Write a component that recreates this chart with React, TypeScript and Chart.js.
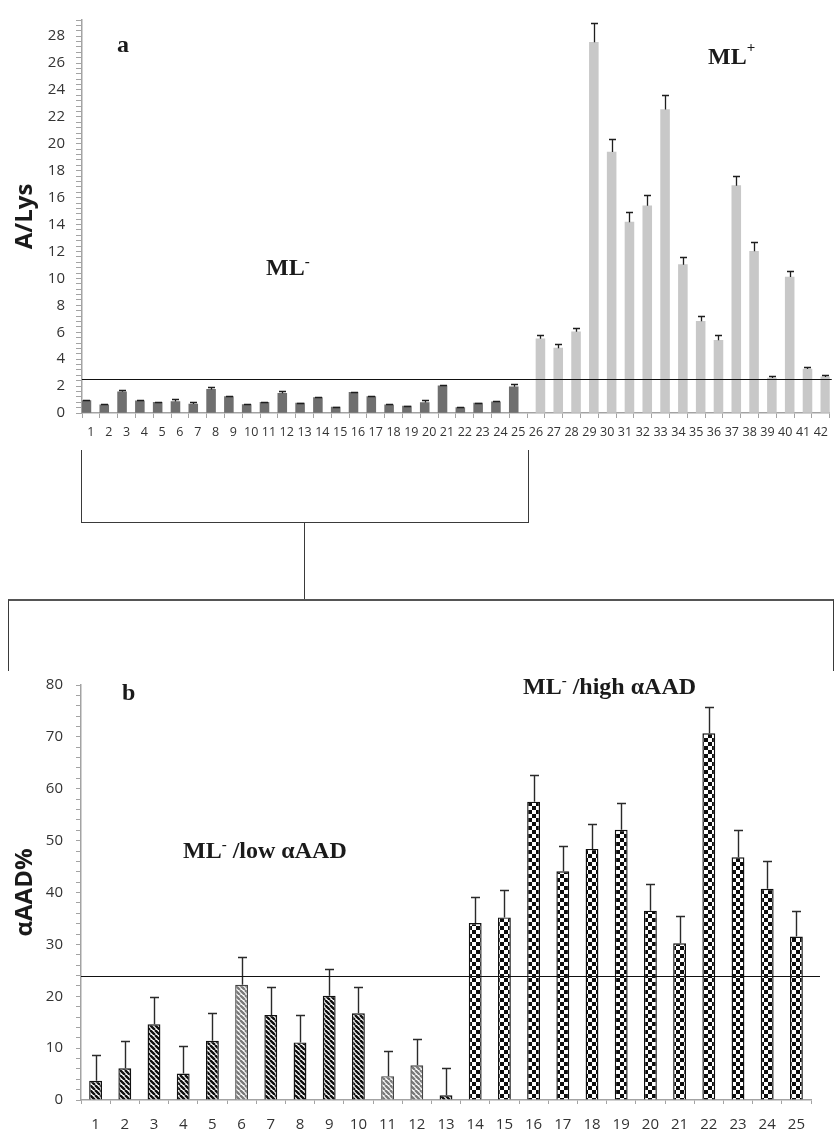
import React, { useEffect, useRef } from 'react';
import { Chart, registerables } from 'chart.js';

Chart.register(...registerables);

// ---------------- data: panel a ----------------
const TOP_CATEGORIES = [
  '1', '2', '3', '4', '5', '6', '7', '8', '9', '10', '11', '12', '13', '14',
  '15', '16', '17', '18', '19', '20', '21', '22', '23', '24', '25', '26', '27', '28',
  '29', '30', '31', '32', '33', '34', '35', '36', '37', '38', '39', '40', '41', '42',
];
// ML- samples (1-25)
const ML_MINUS_VALUES = [
  0.92, 0.61, 1.58, 0.9, 0.8, 0.85, 0.66, 1.75, 1.22, 0.63, 0.8, 1.46, 0.73,
  1.14, 0.44, 1.53, 1.22, 0.61, 0.51, 0.78, 2.02, 0.41, 0.73, 0.83, 1.95,
];
const ML_MINUS_ERRORS = [
  0.06, 0.04, 0.15, 0.05, 0.04, 0.18, 0.17, 0.2, 0.05, 0.03, 0.04, 0.17, 0.04,
  0.05, 0.03, 0.06, 0.06, 0.05, 0.04, 0.17, 0.06, 0.04, 0.05, 0.07, 0.19,
];
// ML+ samples (26-42)
const ML_PLUS_VALUES = [
  5.52, 4.82, 6.03, 27.54, 19.39, 14.18, 15.4, 22.55, 11.02, 6.81, 5.4, 16.89,
  12.02, 2.6, 10.1, 3.26, 2.68,
];
const ML_PLUS_ERRORS = [
  0.3, 0.28, 0.3, 1.41, 0.95, 0.78, 0.78, 1.1, 0.56, 0.39, 0.42, 0.75, 0.66,
  0.12, 0.48, 0.14, 0.12,
];
const TOP_THRESHOLD = 2.55;
const TOP_Y_MAX = 29.2;
const TOP_Y_MINOR = 0.4;
const TOP_Y_MAJOR = 2;

// ---------------- data: panel b ----------------
const BOTTOM_CATEGORIES = [
  '1', '2', '3', '4', '5', '6', '7', '8', '9', '10', '11', '12', '13', '14',
  '15', '16', '17', '18', '19', '20', '21', '22', '23', '24', '25',
];
const AAD_VALUES = [
  3.7, 6.1, 14.6, 5.1, 11.4, 22.2, 16.4, 11.1, 20.1, 16.7, 4.6, 6.7, 0.9,
  34.1, 35.2, 57.5, 44.1, 48.4, 52.1, 36.5, 30.2, 70.7, 46.8, 40.7, 31.5,
];
const AAD_ERRORS = [
  5.0, 5.3, 5.2, 5.3, 5.3, 5.3, 5.3, 5.3, 5.2, 5.0, 4.9, 5.0, 5.2, 5.0, 5.2,
  5.2, 4.9, 4.9, 5.2, 5.2, 5.2, 5.0, 5.2, 5.3, 4.9,
];
// group of each sample: low αAAD (dark hatch), low αAAD (light hatch), high αAAD
const AAD_GROUPS = [
  'low', 'low', 'low', 'low', 'low', 'lowLight', 'low', 'low', 'low', 'low',
  'lowLight', 'lowLight', 'low', 'high', 'high', 'high', 'high', 'high', 'high',
  'high', 'high', 'high', 'high', 'high', 'high',
];
const BOTTOM_THRESHOLD = 24;
const BOTTOM_Y_MAX = 80;
const BOTTOM_Y_MINOR = 2;
const BOTTOM_Y_MAJOR = 10;

// ---------------- plugins ----------------
const errorBarPlugin = {
  id: 'errorBars',
  afterDatasetsDraw(chart: any, _args: any, opts: any) {
    const ctx = chart.ctx;
    const yScale = chart.scales.y;
    chart.data.datasets.forEach((ds: any, di: number) => {
      const errs = ds.errors;
      if (!errs) return;
      const meta = chart.getDatasetMeta(di);
      meta.data.forEach((el: any, i: number) => {
        const v = ds.data[i];
        const e = errs[i];
        if (v == null || e == null) return;
        const x = Math.round(el.x) + 0.5;
        const y0 = yScale.getPixelForValue(v);
        const y1 = Math.round(yScale.getPixelForValue(v + e)) + 0.5;
        ctx.save();
        ctx.strokeStyle = opts.color;
        ctx.lineWidth = opts.width;
        ctx.beginPath();
        ctx.moveTo(x, y0);
        ctx.lineTo(x, y1);
        ctx.moveTo(x - opts.cap / 2, y1);
        ctx.lineTo(x + opts.cap / 2, y1);
        ctx.stroke();
        ctx.restore();
      });
    });
  },
};

const thresholdPlugin = {
  id: 'threshold',
  afterDatasetsDraw(chart: any, _args: any, opts: any) {
    const ctx = chart.ctx;
    const y = Math.round(chart.scales.y.getPixelForValue(opts.value)) + 0.5;
    ctx.save();
    ctx.strokeStyle = opts.color;
    ctx.lineWidth = 1.2;
    ctx.beginPath();
    ctx.moveTo(chart.chartArea.left, y);
    ctx.lineTo(chart.chartArea.right + opts.extend, y);
    ctx.stroke();
    ctx.restore();
  },
};

function makeStripe(color: string) {
  const s = 5;
  const c = document.createElement('canvas');
  c.width = s;
  c.height = s;
  const g = c.getContext('2d')!;
  g.fillStyle = '#ffffff';
  g.fillRect(0, 0, s, s);
  g.strokeStyle = color;
  g.lineWidth = 2.4;
  g.beginPath();
  for (const k of [-s, 0, s]) {
    g.moveTo(k, 0);
    g.lineTo(k + s, s);
  }
  g.stroke();
  return g.createPattern(c, 'repeat');
}

function makeChecker() {
  const q = 4;
  const c = document.createElement('canvas');
  c.width = q * 2;
  c.height = q * 2;
  const g = c.getContext('2d')!;
  g.fillStyle = '#ffffff';
  g.fillRect(0, 0, q * 2, q * 2);
  g.fillStyle = '#0d0d0d';
  g.fillRect(0, 0, q, q);
  g.fillRect(q, q, q, q);
  return g.createPattern(c, 'repeat');
}

const AXIS_GRAY = '#a3a3a3';
const TICK_TEXT = '#333333';
const TICK_FONT = 'Open Sans';

export default function App() {
  const topRef = useRef<HTMLCanvasElement | null>(null);
  const botRef = useRef<HTMLCanvasElement | null>(null);

  useEffect(() => {
    const nMinus = ML_MINUS_VALUES.length;
    const nPlus = ML_PLUS_VALUES.length;
    const padMinus = new Array(nPlus).fill(null);
    const padPlus = new Array(nMinus).fill(null);

    const top = new Chart(topRef.current!, {
      type: 'bar',
      data: {
        labels: TOP_CATEGORIES,
        datasets: [
          {
            label: 'ML-',
            data: [...ML_MINUS_VALUES, ...padMinus],
            errors: [...ML_MINUS_ERRORS, ...padMinus],
            backgroundColor: '#6f6f6f',
            categoryPercentage: 1,
            barPercentage: 1,
          } as any,
          {
            label: 'ML+',
            data: [...padPlus, ...ML_PLUS_VALUES],
            errors: [...padPlus, ...ML_PLUS_ERRORS],
            backgroundColor: '#c8c8c8',
            categoryPercentage: 1,
            barPercentage: 1,
          } as any,
        ],
      },
      options: {
        responsive: false,
        animation: false,
        layout: { padding: { top: 13, right: 1, left: 0, bottom: 0 } },
        plugins: {
          legend: { display: false },
          tooltip: { enabled: false },
          errorBars: { color: '#1e1e1e', width: 1.3, cap: 7 },
          threshold: { value: TOP_THRESHOLD, color: '#111111', extend: 2 },
        } as any,
        scales: {
          x: {
            grid: {
              display: true,
              drawOnChartArea: false,
              drawTicks: true,
              tickLength: 5,
              color: AXIS_GRAY,
              offset: true,
            },
            border: { display: true, color: AXIS_GRAY, width: 1.5 },
            ticks: {
              autoSkip: false,
              maxRotation: 0,
              minRotation: 0,
              padding: 7,
              color: TICK_TEXT,
              font: { family: TICK_FONT, size: 12.5 },
            },
            afterFit: (s: any) => {
              s.height = 32;
            },
          },
          y: {
            min: 0,
            max: TOP_Y_MAX,
            grid: {
              display: true,
              drawOnChartArea: false,
              drawTicks: true,
              tickLength: 6,
              color: AXIS_GRAY,
            },
            border: { display: true, color: AXIS_GRAY, width: 1.5 },
            ticks: {
              stepSize: TOP_Y_MINOR,
              autoSkip: false,
              padding: 11,
              color: TICK_TEXT,
              font: { family: TICK_FONT, size: 15 },
              callback: (v: any) => {
                const r = v / TOP_Y_MAJOR;
                return Math.abs(r - Math.round(r)) < 1e-6 ? String(Math.round(v)) : '';
              },
            },
            title: {
              display: true,
              text: 'A/Lys',
              color: '#1a1a1a',
              font: { family: TICK_FONT, size: 24, weight: 'bold' },
              padding: { top: 11, bottom: 0 },
            },
            afterFit: (s: any) => {
              s.width = 82;
            },
          },
        },
      } as any,
      plugins: [errorBarPlugin, thresholdPlugin],
    });

    const stripeDark = makeStripe('#101010');
    const stripeLight = makeStripe('#7a7a7a');
    const checker = makeChecker();
    const fills = AAD_GROUPS.map((g) =>
      g === 'high' ? checker : g === 'lowLight' ? stripeLight : stripeDark
    );
    const borders = AAD_GROUPS.map((g) => (g === 'lowLight' ? '#444444' : '#111111'));

    const bot = new Chart(botRef.current!, {
      type: 'bar',
      data: {
        labels: BOTTOM_CATEGORIES,
        datasets: [
          {
            label: 'αAAD%',
            data: AAD_VALUES,
            errors: AAD_ERRORS,
            backgroundColor: fills as any,
            borderColor: borders,
            borderWidth: 1.4,
            categoryPercentage: 1,
            barPercentage: 0.44,
          } as any,
        ],
      },
      options: {
        responsive: false,
        animation: false,
        layout: { padding: { top: 35, right: 24, left: 0, bottom: 0 } },
        plugins: {
          legend: { display: false },
          tooltip: { enabled: false },
          errorBars: { color: '#2a2a2a', width: 1.4, cap: 9 },
          threshold: { value: BOTTOM_THRESHOLD, color: '#111111', extend: 9 },
        } as any,
        scales: {
          x: {
            grid: {
              display: true,
              drawOnChartArea: false,
              drawTicks: true,
              tickLength: 4,
              color: AXIS_GRAY,
              offset: true,
            },
            border: { display: true, color: AXIS_GRAY, width: 1.5 },
            ticks: {
              autoSkip: false,
              maxRotation: 0,
              minRotation: 0,
              padding: 12,
              color: TICK_TEXT,
              font: { family: TICK_FONT, size: 15 },
            },
            afterFit: (s: any) => {
              s.height = 40;
            },
          },
          y: {
            min: 0,
            max: BOTTOM_Y_MAX,
            grid: {
              display: true,
              drawOnChartArea: false,
              drawTicks: true,
              tickLength: 5,
              color: AXIS_GRAY,
            },
            border: { display: true, color: AXIS_GRAY, width: 1.5 },
            ticks: {
              stepSize: BOTTOM_Y_MINOR,
              autoSkip: false,
              padding: 13,
              color: TICK_TEXT,
              font: { family: TICK_FONT, size: 15 },
              callback: (v: any) => {
                const r = v / BOTTOM_Y_MAJOR;
                return Math.abs(r - Math.round(r)) < 1e-6 ? String(Math.round(v)) : '';
              },
            },
            title: {
              display: true,
              text: 'αAAD%',
              color: '#1a1a1a',
              font: { family: TICK_FONT, size: 24, weight: 'bold' },
              padding: { top: 11, bottom: 0 },
            },
            afterFit: (s: any) => {
              s.width = 81;
            },
          },
        },
      } as any,
      plugins: [errorBarPlugin, thresholdPlugin],
    });

    return () => {
      top.destroy();
      bot.destroy();
    };
  }, []);

  const serif: React.CSSProperties = {
    position: 'absolute',
    fontFamily: '"Liberation Serif", "Times New Roman", serif',
    fontWeight: 'bold',
    fontSize: 24,
    lineHeight: '24px',
    color: '#1a1a1a',
    whiteSpace: 'nowrap',
  };
  const sup = (shift: number): React.CSSProperties => ({
    fontSize: 15,
    position: 'relative',
    top: shift,
  });
  const line = '1.5px solid #3a3a3a';

  return (
    <div
      style={{
        position: 'absolute',
        left: 0,
        top: 0,
        width: 835,
        height: 1132,
        overflow: 'hidden',
        background: '#ffffff',
      }}
    >
      <canvas ref={topRef} width={835} height={445} style={{ position: 'absolute', left: 0, top: 0 }} />
      <canvas ref={botRef} width={835} height={490} style={{ position: 'absolute', left: 0, top: 650 }} />

      {/* connectors */}
      <div
        style={{
          position: 'absolute',
          left: 81,
          top: 450,
          width: 446,
          height: 72,
          borderLeft: line,
          borderRight: line,
          borderBottom: line,
        }}
      />
      <div style={{ position: 'absolute', left: 304, top: 523, width: 0, height: 77, borderLeft: line }} />
      <div
        style={{
          position: 'absolute',
          left: 8,
          top: 599,
          width: 824,
          height: 70,
          borderLeft: line,
          borderRight: line,
          borderTop: '2px solid #555555',
        }}
      />

      {/* annotations */}
      <div style={{ ...serif, left: 117, top: 32 }}>a</div>
      <div style={{ ...serif, left: 266, top: 255 }}>
        ML<span style={sup(-9)}>-</span>
      </div>
      <div style={{ ...serif, left: 708, top: 44 }}>
        ML<span style={sup(-12)}>+</span>
      </div>
      <div style={{ ...serif, left: 122, top: 680 }}>b</div>
      <div style={{ ...serif, left: 523, top: 674 }}>
        ML<span style={sup(-9)}>-</span> /high αAAD
      </div>
      <div style={{ ...serif, left: 183, top: 838 }}>
        ML<span style={sup(-9)}>-</span> /low αAAD
      </div>
    </div>
  );
}
